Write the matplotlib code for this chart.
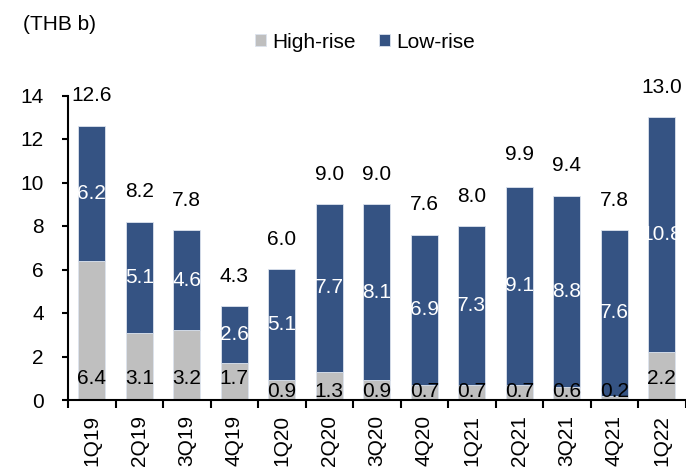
import matplotlib
matplotlib.use("Agg")
import matplotlib.pyplot as plt
import numpy as np

categories = ["1Q19", "2Q19", "3Q19", "4Q19", "1Q20", "2Q20", "3Q20", "4Q20",
              "1Q21", "2Q21", "3Q21", "4Q21", "1Q22"]
high_rise = [6.4, 3.1, 3.2, 1.7, 0.9, 1.3, 0.9, 0.7, 0.7, 0.7, 0.6, 0.2, 2.2]
low_rise = [6.2, 5.1, 4.6, 2.6, 5.1, 7.7, 8.1, 6.9, 7.3, 9.1, 8.8, 7.6, 10.8]
totals = [12.6, 8.2, 7.8, 4.3, 6.0, 9.0, 9.0, 7.6, 8.0, 9.9, 9.4, 7.8, 13.0]
y_ticks = [0, 2, 4, 6, 8, 10, 12, 14]

plt.rcParams['font.family'] = ['Liberation Sans', 'DejaVu Sans']
FS = 15
GRAY = "#BFBFBF"
BLUE = "#355383"

fig = plt.figure(figsize=(6.86, 4.75), dpi=100)
ax = fig.add_axes([68 / 686, 1 - 400 / 475, 617.5 / 686, (400 - 95.5) / 475])

x = np.arange(len(categories))
w = 0.57
hr = np.array(high_rise)
lr = np.array(low_rise)
ax.bar(x, hr, width=w, color=GRAY, edgecolor="#DCE3EE", linewidth=0.6, label="High-rise")
ax.bar(x, lr, width=w, bottom=hr, color=BLUE, edgecolor="#DCE3EE", linewidth=0.6, label="Low-rise")

for i in range(len(categories)):
    yl = 1.0 if hr[i] >= 1.5 else 0.4
    ax.text(x[i], yl, f"{hr[i]:.1f}", ha="center", va="center", fontsize=FS, color="black")
    ax.text(x[i], hr[i] + lr[i] / 2, f"{lr[i]:.1f}", ha="center", va="center", fontsize=FS,
            color="white")
    ax.annotate(f"{totals[i]:.1f}", xy=(x[i], totals[i]), xytext=(0, 21.6),
                textcoords="offset points", ha="center", va="center", fontsize=FS,
                color="black", annotation_clip=False)

ax.set_xlim(-0.5, len(categories) - 0.5)
ax.set_ylim(0, 14)
ax.set_yticks(y_ticks)
ax.set_yticklabels([str(t) for t in y_ticks], fontsize=FS)
ax.set_xticks(x)
ax.set_xticklabels(categories, rotation=90, fontsize=FS)
ax.tick_params(axis="x", which="major", length=0, pad=11)
ax.set_xticks(np.arange(-0.5, len(categories), 1.0), minor=True)
ax.tick_params(axis="x", which="minor", length=6, width=1.5, direction="out")
ax.tick_params(axis="y", length=4.5, width=1.5, direction="out", pad=13)

for s in ["top", "right"]:
    ax.spines[s].set_visible(False)
for s in ["left", "bottom"]:
    ax.spines[s].set_linewidth(1.5)

fig.text(23 / 686, 1 - 25 / 475, "(THB b)", fontsize=FS, ha="left", va="center")
leg = fig.legend(loc="center", bbox_to_anchor=(365 / 686, 1 - 42 / 475), ncol=2,
                 frameon=False, fontsize=FS, handlelength=0.55, handleheight=0.55,
                 handletextpad=0.3, columnspacing=1.1, borderaxespad=0)

fig.savefig("out.png", dpi=100)
